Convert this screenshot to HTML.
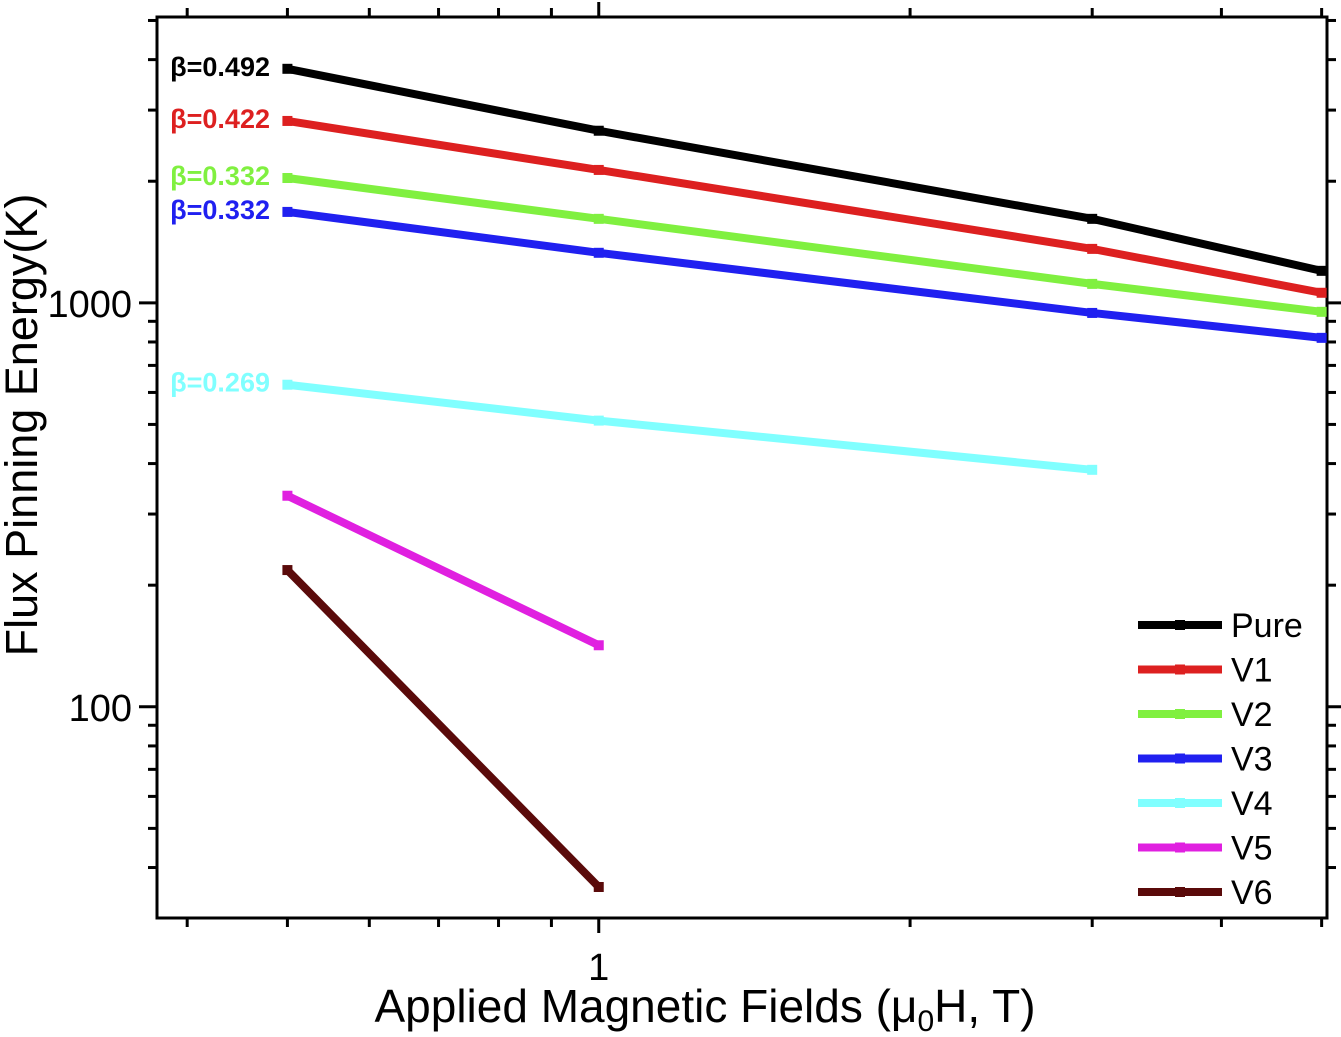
<!DOCTYPE html>
<html><head><meta charset="utf-8">
<style>
html,body{margin:0;padding:0;background:#fff;}
svg{display:block;font-family:"Liberation Sans",Arial,sans-serif;}
</style></head>
<body>
<svg id="chart" width="1341" height="1037" viewBox="0 0 1341 1037" xmlns="http://www.w3.org/2000/svg">
<g id="axes"></g>
<g id="series"></g>
<g id="legend"></g>
<text x="705" y="1022" font-size="46" text-anchor="middle">Applied Magnetic Fields (μ<tspan font-size="30" dy="9">0</tspan><tspan dy="-9">H, T)</tspan></text>
<text transform="translate(37,425) rotate(-90)" font-size="45" text-anchor="middle">Flux Pinning Energy(K)</text>
</svg>
<script>
const seriesNames = ["Pure","V1","V2","V3","V4","V5","V6"];
const seriesColors = ["#000000","#dd2020","#80f040","#2020f0","#80ffff","#e020e0","#5a0a0a"];
const xPure = [0.5,1,3,5];
const yPure = [3796,2667,1614,1200];
const yV1 = [2820,2133,1360,1059];
const yV2 = [2037,1614,1114,950];
const yV3 = [1679,1330,944,819];
const xV4 = [0.5,1,3];
const yV4 = [627,511,386];
const xV56 = [0.5,1];
const yV5 = [333,142];
const yV6 = [218,35.8];
const betaLabels = ["β=0.492","β=0.422","β=0.332","β=0.332","β=0.269"];
const xTickLabels = ["1"];
const yTickLabels = ["100","1000"];

const NS="http://www.w3.org/2000/svg";
const L=157,R=1327,T=17,B=918;
const xmin=Math.log10(0.374), xmax=Math.log10(5.06);
const ymin=Math.log10(30.0), ymax=Math.log10(5100);
const sx=v=>L+(Math.log10(v)-xmin)/(xmax-xmin)*(R-L);
const sy=v=>B-(Math.log10(v)-ymin)/(ymax-ymin)*(B-T);
function mk(tag,attrs,parent){const e=document.createElementNS(NS,tag);for(const k in attrs)e.setAttribute(k,attrs[k]);parent.appendChild(e);return e;}
const axes=document.getElementById('axes');
const frame=mk('rect',{x:L,y:T,width:R-L,height:B-T,fill:'none',stroke:'#000','stroke-width':3},axes);


const xt=[0.4,0.5,0.6,0.7,0.8,0.9,1,2,3,4,5];
xt.forEach(v=>{const x=sx(v);const len=(v===1)?15:9;
 const a=mk('line',{x1:x,x2:x,y1:B,y2:B+len,stroke:'#000','stroke-width':3},axes);
 
 const b=mk('line',{x1:x,x2:x,y1:T,y2:T-len,stroke:'#000','stroke-width':3},axes);
 });
const xl=mk('text',{x:sx(1),y:980,'font-size':38,'text-anchor':'middle'},axes);xl.textContent=xTickLabels[0];

const yt=[40,50,60,70,80,90,100,200,300,400,500,600,700,800,900,1000,2000,3000,4000,5000];
yt.forEach(v=>{const y=sy(v);const len=(v===100||v===1000)?18:9;
 const a=mk('line',{x1:L,x2:L-len,y1:y,y2:y,stroke:'#000','stroke-width':3},axes);
 
 const b=mk('line',{x1:R,x2:R+len,y1:y,y2:y,stroke:'#000','stroke-width':3},axes);
 });
[100,1000].forEach((v,i)=>{const t=mk('text',{x:132,y:sy(v)+14,'font-size':38,'text-anchor':'end'},axes);t.textContent=yTickLabels[i];
 });
const sg=document.getElementById('series');
const data=[[xPure,yPure],[xPure,yV1],[xPure,yV2],[xPure,yV3],[xV4,yV4],[xV56,yV5],[xV56,yV6]];
data.forEach((d,i)=>{
 const pts=d[0].map((x,j)=>sx(x)+','+sy(d[1][j])).join(' ');
 const pl=mk('polyline',{points:pts,fill:'none',stroke:seriesColors[i],'stroke-width':8},sg);
 
 
 d[0].forEach((x,j)=>{const r=mk('rect',{x:sx(x)-5,y:sy(d[1][j])-5,width:10,height:10,fill:seriesColors[i]},sg);
  
  });
 if(i<betaLabels.length){const t=mk('text',{x:270,y:sy(d[1][0])+7,'font-size':27,'font-weight':'bold','text-anchor':'end',fill:seriesColors[i]},sg);
  t.textContent=betaLabels[i];
  
  }
});
const lg=document.getElementById('legend');
seriesNames.forEach((n,i)=>{const y=625+i*44.5;
 const l=mk('line',{x1:1138,x2:1222,y1:y,y2:y,stroke:seriesColors[i],'stroke-width':8},lg);
 
 const r=mk('rect',{x:1175,y:y-5,width:10,height:10,fill:seriesColors[i]},lg);
 
 const t=mk('text',{x:1231,y:y+12,'font-size':34},lg);t.textContent=n;
 });
</script>
</body></html>
